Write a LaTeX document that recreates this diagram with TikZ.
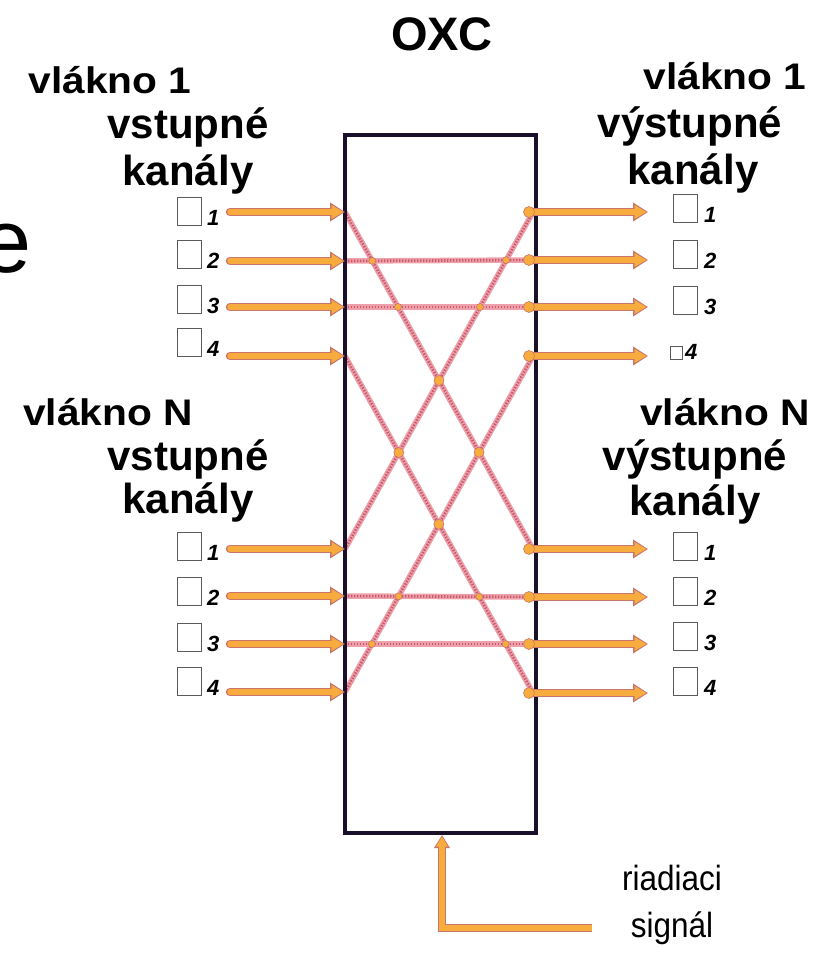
\documentclass[tikz,border=0pt]{standalone}
\usepackage{fontspec}
\setmainfont{Liberation Sans}
\newfontfamily\vfont[FakeStretch=1.1]{Liberation Sans}
\newfontfamily\sfont[FakeStretch=0.9]{Liberation Sans}
\usetikzlibrary{arrows.meta}
\definecolor{orng}{RGB}{248,172,62}
\definecolor{brn}{RGB}{200,118,108}
\definecolor{pinkl}{RGB}{238,160,170}
\definecolor{pinkd}{RGB}{200,90,110}
\definecolor{boxc}{RGB}{26,16,42}
\definecolor{sqc}{RGB}{90,90,90}
\tikzset{
  lbl/.style={inner sep=0pt, anchor=base, font=\fontsize{42}{44}\selectfont\bfseries},
  vlbl/.style={inner sep=0pt, anchor=base, font=\vfont\fontsize{37}{40}\selectfont\bfseries},
  num/.style={inner sep=0pt, anchor=base west, font=\fontsize{22}{24}\selectfont\bfseries\itshape},
  sq/.style={draw=sqc, line width=0.9pt, fill=white},
  arrout/.style={line width=8.5pt, draw=brn, line cap=round, -{Triangle[length=15pt,width=18pt]}},
  arrin/.style={line width=5.5pt, draw=orng, line cap=round, -{Triangle[length=12pt,width=13pt]}},
  xout/.style={line width=5.5pt, draw=pinkl},
  xin/.style={line width=2.6pt, draw=pinkd, dash pattern=on 1.4pt off 1.6pt},
  dot/.style={circle, fill=orng, draw=brn, line width=0.6pt, inner sep=0pt, minimum size=10pt},
  blob/.style={circle, fill=orng, draw=brn, line width=0.6pt, inner sep=0pt, minimum size=11pt},
}
\begin{document}
\begin{tikzpicture}[x=1pt,y=-1pt]
\useasboundingbox (0,0) rectangle (822,956);
\clip (0,0) rectangle (822,956);
\fill[white] (0,0) rectangle (822,956);

% big partial letter
\node[inner sep=0pt, anchor=base west, font=\fontsize{90}{90}\selectfont] (bige) at (-19,272) {e};

% titles
\node[lbl, font=\fontsize{47}{50}\selectfont\bfseries] (oxc) at (442,50) {OXC};
\node[vlbl] (l1a) at (110,93) {vlákno 1};
\node[lbl] (l1b) at (188,138) {vstupné};
\node[lbl] (l1c) at (188,185) {kanály};
\node[vlbl] (r1a) at (725,89) {vlákno 1};
\node[lbl] (r1b) at (690,137) {výstupné};
\node[lbl] (r1c) at (693,184) {kanály};
\node[vlbl] (lNa) at (108,425) {vlákno N};
\node[lbl] (lNb) at (188,470) {vstupné};
\node[lbl] (lNc) at (188,513) {kanály};
\node[vlbl] (rNa) at (725,425) {vlákno N};
\node[lbl] (rNb) at (695,470) {výstupné};
\node[lbl] (rNc) at (695,515) {kanály};

% control text
\node[inner sep=0pt, anchor=base, font=\sfont\fontsize{35}{38}\selectfont] (ctl1) at (672,890) {riadiaci};
\node[inner sep=0pt, anchor=base, font=\sfont\fontsize{35}{38}\selectfont] (ctl2) at (672,937) {signál};

% squares and numbers left
\foreach \y/\n [count=\i] in {197/1,240/2,285/3,328/4,532/1,577/2,623/3,667/4}{
  \draw[sq] (177,\y) rectangle ++(24,28);
  \node[num] (ln\i) at (207,\y+28) {\n};
}
% squares and numbers right
\foreach \y/\n [count=\i] in {194/1,240/2,286/3,532/1,577/2,622/3,667/4}{
  \draw[sq] (673,\y) rectangle ++(24,28);
  \node[num] (rn\i) at (704,\y+28) {\n};
}
\draw[sq, line width=0.7pt] (670,346) rectangle (682,359);
\node[num] (rn4) at (685,359) {4};

% coordinates
\foreach \y [count=\i] in {212,261,307,356,549,596,644,692}{
  \coordinate (ls\i) at (230,\y);
  \coordinate (le\i) at (345,\y);
}
\foreach \y [count=\i] in {212,260,307,356,549,597,644,693}{
  \coordinate (rs\i) at (533,\y);
  \coordinate (re\i) at (648,\y);
}

% cross connections
\foreach \a/\b in {le1/rs5,le5/rs1,le4/rs8,le8/rs4,le2/rs2,le3/rs3,le6/rs6,le7/rs7}{
  \draw[xout] (\a) -- (\b);
}
\foreach \a/\b in {le1/rs5,le5/rs1,le4/rs8,le8/rs4,le2/rs2,le3/rs3,le6/rs6,le7/rs7}{
  \draw[xin] (\a) -- (\b);
}
% crossing dots
\node[dot] at (intersection of le1--rs5 and le5--rs1) {};
\node[dot] at (intersection of le4--rs8 and le8--rs4) {};
\node[dot] at (intersection of le5--rs1 and le4--rs8) {};
\node[dot] at (intersection of le1--rs5 and le8--rs4) {};
\node[dot, minimum size=7pt] at (intersection of le1--rs5 and le2--rs2) {};
\node[dot, minimum size=7pt] at (intersection of le1--rs5 and le3--rs3) {};
\node[dot, minimum size=7pt] at (intersection of le5--rs1 and le2--rs2) {};
\node[dot, minimum size=7pt] at (intersection of le5--rs1 and le3--rs3) {};
\node[dot, minimum size=7pt] at (intersection of le4--rs8 and le6--rs6) {};
\node[dot, minimum size=7pt] at (intersection of le4--rs8 and le7--rs7) {};
\node[dot, minimum size=7pt] at (intersection of le8--rs4 and le6--rs6) {};
\node[dot, minimum size=7pt] at (intersection of le8--rs4 and le7--rs7) {};

% OXC box
\node[draw=boxc, line width=4.5pt, minimum width=191pt, minimum height=698pt, inner sep=0pt] (oxcbox) at (440.5,484) {};

% input arrows
\foreach \i in {1,...,8}{
  \draw[arrout] (ls\i) -- (le\i);
  \draw[arrin, shorten >=1.5pt] (ls\i) -- (le\i);
}
% output arrows
\foreach \i in {1,...,8}{
  \draw[arrout] (rs\i) -- (re\i);
  \draw[arrin, shorten >=1.5pt] (rs\i) -- (re\i);
  \node[blob] at ([xshift=-4pt]rs\i) {};
}

% control signal
\coordinate (cs) at (592,928);
\coordinate (cc) at (442,928);
\coordinate (ct) at (442,835);
\draw[line width=8.5pt, draw=brn, line join=miter, -{Triangle[length=13pt,width=15pt]}] (cs) -- (cc) -- (ct);
\draw[line width=5.5pt, draw=orng, line join=miter, -{Triangle[length=10pt,width=11pt]}, shorten >=1.5pt] (cs) -- (cc) -- (ct);
\end{tikzpicture}
\end{document}
